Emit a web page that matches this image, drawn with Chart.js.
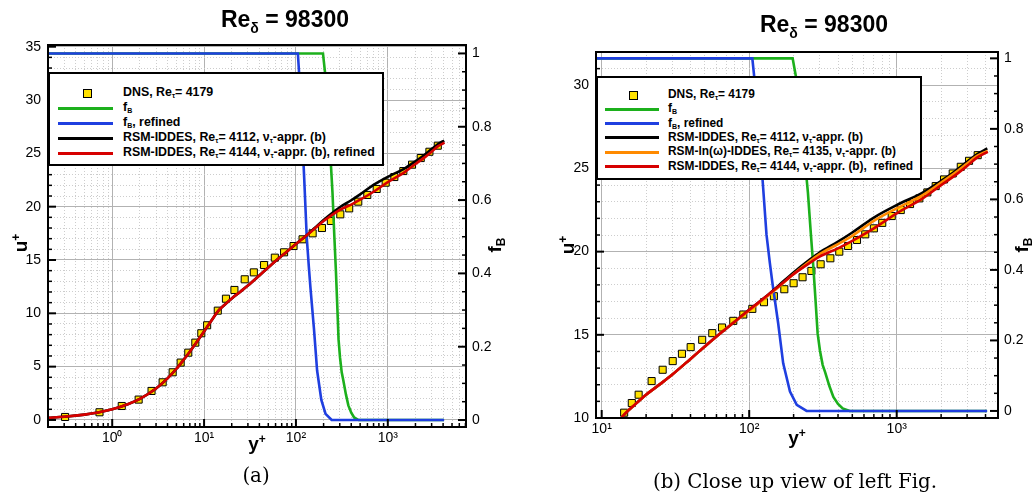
<!DOCTYPE html>
<html>
<head>
<meta charset="utf-8">
<title>Re_delta = 98300</title>
<script src="https://cdn.jsdelivr.net/npm/chart.js@4.4.1/dist/chart.umd.min.js"></script>
<style>
  html, body { margin:0; padding:0; background:#fff; }
  body { position:relative; width:1032px; height:498px; overflow:hidden; font-family:"Liberation Sans", Arial, Helvetica, sans-serif; color:#000; }
  canvas { position:absolute; top:0; }
  #chartA { left:0; }
  #chartB { left:520px; }
  .title { position:absolute; font-weight:bold; font-size:23px; white-space:nowrap; transform:translateX(-50%); }
  .title sub { font-size:14px; vertical-align:-6px; line-height:0; }
  .axt { position:absolute; font-weight:bold; font-size:19px; white-space:nowrap; transform:translate(-50%,-50%); line-height:1; }
  .axt.rot { transform:translate(-50%,-50%) rotate(-90deg); }
  .axt sup { font-size:12px; vertical-align:7px; line-height:0; }
  .axt sub { font-size:12px; vertical-align:-4px; line-height:0; }
  .legend { position:absolute; background:#fff; border:2px solid #000; box-sizing:border-box; }
  .legend .sw { position:absolute; height:3px; margin-top:-1.5px; }
  .legend .mk { position:absolute; width:7px; height:7px; margin:-4.5px 0 0 -4.5px; background:#ffe100; border:1px solid #000; }
  .legend .tx { position:absolute; font-weight:bold; white-space:nowrap; line-height:14px; margin-top:-8px; }
  #legA .tx { font-size:12.4px; }
  #legB .tx { font-size:11.9px; }
  .legend sub { font-size:7px; vertical-align:-2px; line-height:0; }
  .caption { position:absolute; font-family:"DejaVu Serif", "Liberation Serif", serif; font-size:19.8px; white-space:nowrap; transform:translateX(-50%); }
</style>
</head>
<body>
<canvas id="chartA" width="520" height="498"></canvas>
<canvas id="chartB" width="512" height="498"></canvas>

<div class="title" style="left:285px;top:6px">Re<sub>δ</sub> = 98300</div>
<div class="title" style="left:824px;top:11px">Re<sub>δ</sub> = 98300</div>

<div class="axt rot" style="left:20px;top:243px">u<sup>+</sup></div>
<div class="axt rot" style="left:494px;top:245px">f<sub>B</sub></div>
<div class="axt" style="left:257px;top:443px">y<sup>+</sup></div>
<div class="axt rot" style="left:567px;top:245px">u<sup>+</sup></div>
<div class="axt rot" style="left:1021px;top:245px">f<sub>B</sub></div>
<div class="axt" style="left:797px;top:437px">y<sup>+</sup></div>

<div class="legend" id="legA" style="left:48px;top:72px;width:336px;height:94px"></div>
<div class="legend" id="legB" style="left:596px;top:76px;width:326px;height:104px"></div>

<div class="caption" style="left:256px;top:464px">(a)</div>
<div class="caption" style="left:795px;top:470px">(b) Close up view of left Fig.</div>

<script>
// colours
const GREEN = '#1cb01c', BLUE = '#1f3fe0', BLACK = '#000000', ORANGE = '#ff8a00', RED = '#d60000', YELLOW = '#ffe100';
const MAJOR_GRID = '#b2b2b2', MINOR_GRID = '#cdcdcd';

// tick labels
const xDecades = [1, 10, 100, 1000];
const xDecadeLabels = ['10⁰', '10¹', '10²', '10³'];
const uMajorA = [0, 5, 10, 15, 20, 25, 30, 35];
const uMajorB = [10, 15, 20, 25, 30];
const fbMajor = [0, 0.2, 0.4, 0.6, 0.8, 1];
const fbMajorLabels = ['0', '0.2', '0.4', '0.6', '0.8', '1'];

// DNS, Re_tau = 4179 (as shown in panel a)
const dnsAX = [0.307, 0.727, 1.27, 1.94, 2.68, 3.54, 4.55, 5.56, 6.73, 8.03, 9.33, 10.8, 14.1, 17.3, 21.4, 27.7, 34.8, 45, 58.9, 74.3, 94.2, 118, 152, 192, 240, 304, 380, 477, 598, 757, 948, 1178, 1476, 1836, 2283, 2838, 3500];
const dnsAU = [0.28, 0.72, 1.31, 1.91, 2.72, 3.53, 4.47, 5.38, 6.31, 7.25, 8.13, 8.88, 10.25, 11.37, 12.19, 13.19, 13.84, 14.53, 15.22, 15.72, 16.31, 16.94, 17.5, 18.0, 18.66, 19.28, 19.84, 20.47, 21.1, 21.66, 22.25, 22.78, 23.34, 23.94, 24.56, 25.15, 25.72];
// DNS, Re_tau = 4179 (as shown in panel b)
const dnsBX = [14.2, 16, 17.8, 21.8, 25.9, 30.3, 35, 40.1, 48, 56.2, 65.4, 78, 91.2, 105, 126, 147, 173, 200, 230, 264, 305, 355, 408, 468, 538, 612, 700, 798, 925, 1065, 1231, 1423, 1613, 1838, 2093, 2397, 2718, 3092, 3540];
const dnsBU = [10.32, 10.9, 11.4, 12.22, 12.9, 13.42, 13.86, 14.26, 14.7, 15.1, 15.44, 15.84, 16.22, 16.56, 16.96, 17.32, 17.74, 18.1, 18.46, 18.84, 19.24, 19.6, 20.0, 20.34, 20.7, 21.04, 21.4, 21.73, 22.14, 22.5, 22.86, 23.2, 23.56, 23.94, 24.34, 24.7, 25.1, 25.46, 25.8];

// RSM-IDDES, Re_tau = 4144, refined
const redX = [0.2, 0.3, 0.5, 0.7, 1, 1.5, 2, 3, 4, 5, 6, 7, 8, 10, 12, 14.2, 17, 20, 25, 30, 40, 50, 60, 80, 100, 130, 160, 200, 260, 300, 400, 500, 700, 1000, 1500, 2000, 2500, 3000, 3500, 4144];
const redU = [0.2, 0.3, 0.5, 0.7, 1.0, 1.5, 1.98, 2.95, 3.9, 4.8, 5.65, 6.4, 7.1, 8.3, 9.3, 10.2, 10.85, 11.4, 12.05, 12.6, 13.55, 14.3, 14.9, 15.8, 16.5, 17.3, 17.95, 18.65, 19.35, 19.7, 20.2, 20.65, 21.4, 22.3, 23.2, 24.0, 24.6, 25.15, 25.65, 26.0];
// RSM-IDDES, Re_tau = 4112
const blackX = [0.2, 0.3, 0.5, 0.7, 1, 1.5, 2, 3, 4, 5, 6, 7, 8, 10, 12, 14.2, 17, 20, 25, 30, 40, 50, 60, 80, 100, 130, 160, 200, 260, 300, 400, 500, 700, 1000, 1500, 2000, 2500, 3000, 3500, 4112];
const blackU = [0.2, 0.3, 0.5, 0.7, 1.0, 1.5, 1.98, 2.95, 3.9, 4.8, 5.65, 6.4, 7.1, 8.3, 9.3, 10.2, 10.85, 11.4, 12.05, 12.6, 13.55, 14.3, 14.9, 15.8, 16.5, 17.3, 18.0, 18.75, 19.55, 19.95, 20.6, 21.15, 22.05, 22.8, 23.55, 24.25, 24.85, 25.4, 25.85, 26.2];
// RSM-ln(omega)-IDDES, Re_tau = 4135 (panel b only)
const orangeX = [12, 14.2, 17, 20, 25, 30, 40, 50, 60, 80, 100, 130, 160, 200, 260, 300, 400, 500, 700, 1000, 1500, 2000, 2500, 3000, 3500, 4135];
const orangeU = [9.3, 10.2, 10.85, 11.4, 12.05, 12.6, 13.55, 14.3, 14.9, 15.8, 16.45, 17.25, 17.9, 18.65, 19.45, 19.85, 20.45, 20.95, 21.85, 22.6, 23.4, 24.15, 24.75, 25.3, 25.75, 26.05];

// blending functions f_B (right axis)
const fbGreenX = [0.2, 197, 207, 220, 235, 250, 262, 272, 282, 291, 302, 315, 327, 350, 372, 400, 430, 480, 4100];
const fbGreenY = [1, 1, 0.95, 0.85, 0.74, 0.62, 0.5, 0.41, 0.31, 0.22, 0.17, 0.13, 0.11, 0.07, 0.04, 0.02, 0.007, 0, 0];
const fbBlueX = [0.2, 105, 108, 116, 123, 131, 138, 144, 157, 170, 189, 210, 245, 4100];
const fbBlueY = [1, 1, 0.95, 0.8, 0.66, 0.5, 0.42, 0.36, 0.25, 0.135, 0.055, 0.017, 0, 0];

Chart.defaults.font.family = '"Liberation Sans", Arial, Helvetica, sans-serif';
Chart.defaults.color = '#000';

function pts(xs, ys){ return xs.map((x, i) => ({ x: x, y: ys[i] })); }
function near(list, v){ return list.some(t => Math.abs(t - v) < 1e-6); }
function isDecade(v){ const l = Math.log10(v); return Math.abs(l - Math.round(l)) < 1e-6; }

function logGrid(min, max){
  const out = [];
  for (let e = -1; e <= 4; e++){
    for (let m = 1; m <= 9; m++){
      const v = +(m * Math.pow(10, e)).toPrecision(6);
      if (v >= min && v <= max) out.push(v);
    }
  }
  return out;
}
function linGrid(min, max, step){
  const out = [];
  for (let i = Math.ceil(min / step - 1e-9); i * step <= max + 1e-9; i++) out.push(+(i * step).toFixed(4));
  return out;
}

// frame + tecplot-style inward ticks
const frameTicks = {
  id: 'frameTicks',
  afterDatasetsDraw(chart, args, opts){
    const { ctx, chartArea: a, scales } = chart;
    ctx.save();
    ctx.strokeStyle = '#000';
    function tick(x1, y1, x2, y2, w){ ctx.lineWidth = w; ctx.beginPath(); ctx.moveTo(x1, y1); ctx.lineTo(x2, y2); ctx.stroke(); }
    scales.x.ticks.forEach(t => {
      const px = scales.x.getPixelForValue(t.value);
      const major = isDecade(t.value);
      tick(px, a.bottom, px, a.bottom - (major ? 8 : 4), major ? 2 : 1.5);
    });
    scales.y.ticks.forEach(t => {
      const py = scales.y.getPixelForValue(t.value);
      const major = near(opts.uMajor, t.value);
      tick(a.left, py, a.left + (major ? 8 : 4), py, major ? 2 : 1.5);
    });
    scales.fb.ticks.forEach(t => {
      const py = scales.fb.getPixelForValue(t.value);
      const major = near(fbMajor, t.value);
      tick(a.right, py, a.right - (major ? 8 : 4), py, major ? 2 : 1.5);
    });
    ctx.lineWidth = 2;
    ctx.strokeRect(a.left, a.top, a.right - a.left, a.bottom - a.top);
    ctx.restore();
  }
};

function lineSet(xs, ys, color, order, axis, smooth){
  return {
    data: pts(xs, ys), yAxisID: axis, borderColor: color, backgroundColor: color,
    borderWidth: 2.6, pointRadius: 0, order: order,
    tension: 0, cubicInterpolationMode: smooth ? 'monotone' : 'default'
  };
}

function makeChart(p){
  const datasets = [
    { data: pts(p.dnsX, p.dnsU), yAxisID: 'y', showLine: false, pointStyle: 'rect', pointRadius: 5,
      pointBackgroundColor: YELLOW, pointBorderColor: '#000', pointBorderWidth: 1, order: 6 },
    lineSet(fbGreenX, fbGreenY, GREEN, 5, 'fb', false),
    lineSet(fbBlueX, fbBlueY, BLUE, 4, 'fb', false),
    lineSet(blackX, blackU, BLACK, 3, 'y', true),
    lineSet(redX, redU, RED, 1, 'y', true)
  ];
  if (p.orange) datasets.push(lineSet(orangeX, orangeU, ORANGE, 2, 'y', true));

  return new Chart(document.getElementById(p.id), {
    type: 'line',
    data: { datasets: datasets },
    options: {
      responsive: false, animation: false, devicePixelRatio: 1,
      layout: { padding: { top: p.top, left: 0, right: 0, bottom: 0 } },
      plugins: { legend: { display: false }, tooltip: { enabled: false }, frameTicks: { uMajor: p.uMajor } },
      scales: {
        x: {
          type: 'logarithmic', min: p.xMin, max: p.xMax,
          afterBuildTicks: s => { s.ticks = logGrid(p.xMin, p.xMax).map(v => ({ value: v })); },
          afterFit: s => { s.height = p.bottomH; },
          ticks: { autoSkip: false, maxRotation: 0, padding: 3, font: { size: 14 },
            callback: v => { const i = xDecades.findIndex(d => Math.abs(d - v) < 1e-6); return i < 0 ? '' : xDecadeLabels[i]; } },
          grid: { drawTicks: false, lineWidth: 1, color: c => (c.tick && isDecade(c.tick.value)) ? MAJOR_GRID : MINOR_GRID },
          border: { display: false, dash: c => (c.tick && !isDecade(c.tick.value)) ? [1, 2] : [] }
        },
        y: {
          type: 'linear', position: 'left', min: p.uMin, max: p.uMax,
          afterBuildTicks: s => { s.ticks = linGrid(p.uMin, p.uMax, 1).map(v => ({ value: v })); },
          afterFit: s => { s.width = p.leftW; },
          ticks: { autoSkip: false, padding: 7, font: { size: 14 }, callback: v => near(p.uMajor, v) ? String(v) : '' },
          grid: { drawTicks: false, lineWidth: 1, color: c => (c.tick && near(p.uMajor, c.tick.value)) ? MAJOR_GRID : MINOR_GRID },
          border: { display: false, dash: c => (c.tick && !near(p.uMajor, c.tick.value)) ? [1, 2] : [] }
        },
        fb: {
          type: 'linear', position: 'right', min: p.fbMin, max: p.fbMax,
          afterBuildTicks: s => { s.ticks = linGrid(0, 1, 0.05).map(v => ({ value: v })); },
          afterFit: s => { s.width = p.rightW; },
          ticks: { autoSkip: false, padding: 6, font: { size: 14 },
            callback: v => { const i = fbMajor.findIndex(t => Math.abs(t - v) < 1e-6); return i < 0 ? '' : fbMajorLabels[i]; } },
          grid: { drawOnChartArea: false, drawTicks: false },
          border: { display: false }
        }
      }
    },
    plugins: [frameTicks]
  });
}

function buildLegend(id, rows, g){
  const box = document.getElementById(id);
  rows.forEach((r, i) => {
    const y = g.y0 + i * g.dy;
    if (r.color){
      const sw = document.createElement('div');
      sw.className = 'sw';
      sw.style.cssText = 'left:' + g.lineX + 'px;top:' + y + 'px;width:' + g.lineW + 'px;background:' + r.color;
      box.appendChild(sw);
    } else {
      const mk = document.createElement('div');
      mk.className = 'mk';
      mk.style.cssText = 'left:' + g.markX + 'px;top:' + y + 'px';
      box.appendChild(mk);
    }
    const tx = document.createElement('div');
    tx.className = 'tx';
    tx.style.cssText = 'left:' + g.textX + 'px;top:' + y + 'px';
    tx.innerHTML = r.label;
    box.appendChild(tx);
  });
}

makeChart({ id: 'chartA', xMin: 0.2, xMax: 7100, uMin: -0.66, uMax: 35.16, fbMin: -0.019, fbMax: 1.023,
  top: 45, leftW: 48, rightW: 54, bottomH: 71, uMajor: uMajorA, dnsX: dnsAX, dnsU: dnsAU, orange: false });
makeChart({ id: 'chartB', xMin: 9.15, xMax: 4860, uMin: 10, uMax: 32, fbMin: -0.02, fbMax: 1.018,
  top: 52, leftW: 76, rightW: 34, bottomH: 80, uMajor: uMajorB, dnsX: dnsBX, dnsU: dnsBU, orange: true });

const RE = 'Re<sub>τ</sub>= ', NU = 'ν<sub>τ</sub>-appr. (b)';
buildLegend('legA', [
  { label: 'DNS, ' + RE + '4179' },
  { label: 'f<sub>B</sub>', color: GREEN },
  { label: 'f<sub>B</sub>, refined', color: BLUE },
  { label: 'RSM-IDDES, ' + RE + '4112, ' + NU, color: BLACK },
  { label: 'RSM-IDDES, ' + RE + '4144, ' + NU + ', refined', color: RED }
], { y0: 19, dy: 15, lineX: 8, lineW: 55, markX: 37, textX: 73 });
buildLegend('legB', [
  { label: 'DNS, ' + RE + '4179' },
  { label: 'f<sub>B</sub>', color: GREEN },
  { label: 'f<sub>B</sub>, refined', color: BLUE },
  { label: 'RSM-IDDES, ' + RE + '4112, ' + NU, color: BLACK },
  { label: 'RSM-ln(ω)-IDDES, ' + RE + '4135, ' + NU, color: ORANGE },
  { label: 'RSM-IDDES, ' + RE + '4144, ' + NU + ',&nbsp; refined', color: RED }
], { y0: 17, dy: 14.3, lineX: 7, lineW: 54, markX: 35, textX: 70 });
</script>
</body>
</html>
